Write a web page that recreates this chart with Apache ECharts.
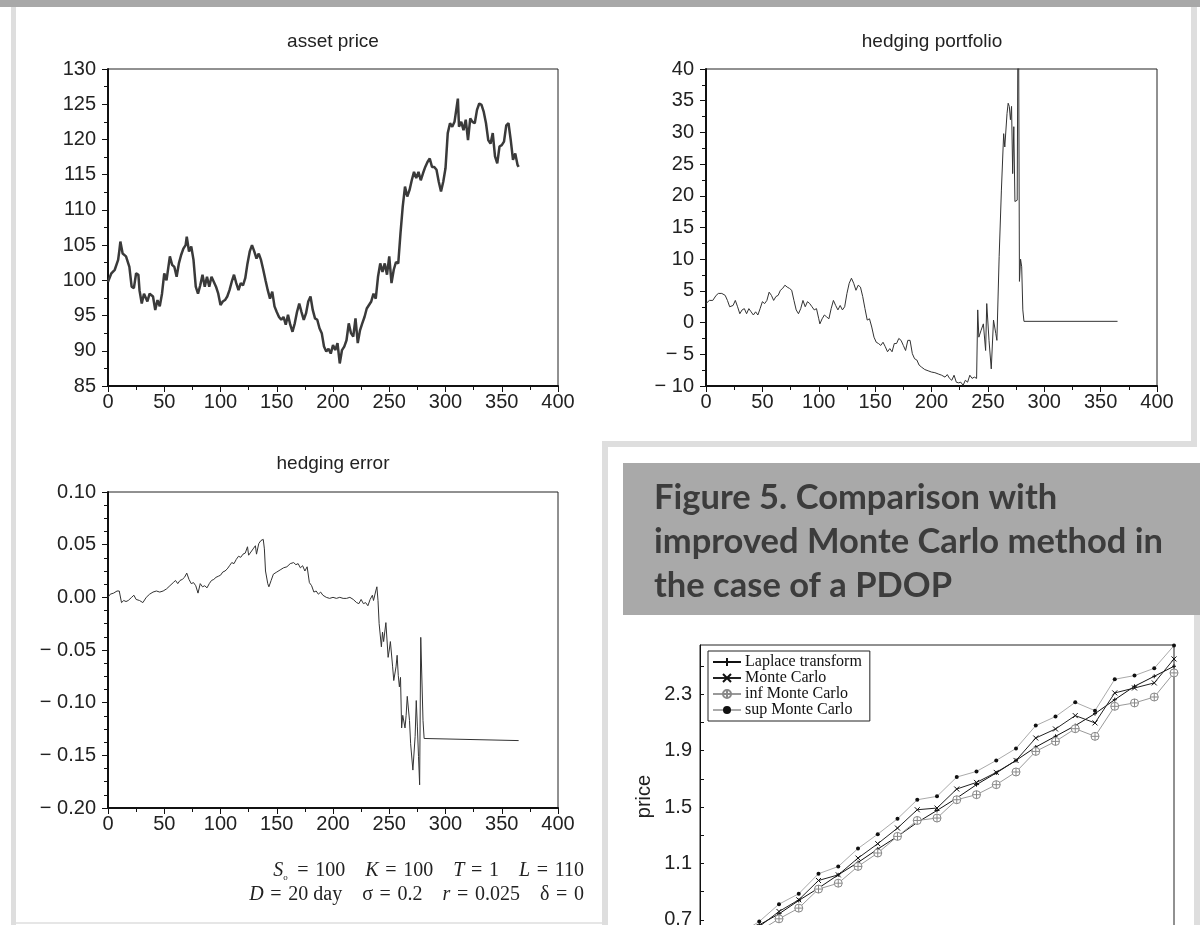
<!DOCTYPE html>
<html>
<head>
<meta charset="utf-8">
<title>hedging</title>
<script src="https://cdn.jsdelivr.net/npm/echarts@6.0.0/dist/echarts.min.js"></script>
<style>
  html, body { margin: 0; padding: 0; background: #fff; }
  #main { width: 1200px; height: 925px; }
</style>
</head>
<body>
<div id="main"></div>
<script>
"use strict";

// asset price path, [day, price]
var assetPrice = [[0,99.8],[3,101.0],[6,101.5],[9,102.9],[10,104.1],[11,105.5],[13,103.8],[16,103.4],[19,101.9],[21,99.1],[23,98.9],[25,101.0],[27,100.8],[28,98.6],[30,96.7],[32,98.1],[35,97.0],[37,98.1],[40,97.7],[42,95.8],[44,97.2],[46,96.3],[48,98.1],[50,101.0],[52,100.0],[55,103.4],[57,102.2],[59,101.9],[61,100.5],[63,102.4],[65,103.6],[67,104.5],[69,105.0],[70,106.2],[72,104.1],[74,104.8],[76,102.9],[78,99.1],[80,98.1],[82,99.3],[84,100.8],[86,99.1],[88,100.5],[90,99.1],[92,100.5],[94,99.8],[96,99.1],[98,98.1],[100,96.5],[102,97.0],[104,97.2],[106,97.7],[108,98.6],[110,99.8],[112,100.8],[114,99.6],[116,98.6],[118,99.6],[120,99.3],[122,100.3],[124,102.4],[126,104.1],[128,105.0],[130,104.1],[132,103.1],[134,103.8],[136,102.9],[138,101.5],[140,100.0],[142,98.6],[144,97.4],[146,98.4],[148,96.3],[150,95.5],[152,94.8],[154,94.4],[156,94.8],[158,93.7],[160,95.1],[162,93.7],[164,92.7],[166,93.9],[168,95.5],[170,96.7],[172,95.5],[174,94.4],[176,95.3],[178,97.0],[180,97.7],[182,95.8],[184,94.6],[186,94.4],[188,93.2],[190,92.5],[192,90.6],[194,89.9],[196,90.3],[198,89.6],[200,90.8],[202,90.1],[204,91.1],[206,88.2],[208,90.1],[210,90.6],[212,91.5],[214,93.9],[216,92.5],[218,92.0],[220,94.6],[222,91.1],[224,92.9],[226,93.9],[228,94.8],[230,96.0],[232,96.5],[234,97.0],[236,98.1],[238,97.4],[240,100.5],[242,102.4],[244,101.2],[246,102.4],[248,100.8],[250,103.4],[252,99.6],[254,101.5],[256,102.6],[258,102.4],[260,106.7],[262,110.5],[264,113.3],[266,111.9],[268,112.8],[270,114.2],[272,115.4],[274,114.5],[276,115.4],[278,114.2],[280,115.2],[282,116.1],[284,116.8],[286,117.3],[288,116.1],[290,116.1],[292,115.7],[294,114.0],[296,112.6],[298,114.0],[300,115.9],[302,120.9],[304,122.3],[306,121.8],[308,122.5],[310,124.7],[311,125.8],[312,121.8],[314,122.5],[316,121.3],[318,122.8],[320,119.9],[322,123.0],[324,122.5],[326,122.3],[328,124.2],[330,125.1],[332,124.9],[334,123.9],[336,122.3],[338,119.9],[340,119.4],[342,120.9],[344,117.6],[346,116.6],[348,119.0],[350,119.2],[352,119.7],[354,122.0],[356,122.3],[358,119.9],[360,117.1],[362,118.0],[364,116.4],[365,116.1]];

// hedging portfolio value, [day, value]
var hedgePortfolio = [[0,3.0],[3,3.5],[6,3.5],[9,4.3],[11,4.6],[14,4.6],[17,4.3],[19,3.5],[21,2.5],[24,2.7],[26,3.5],[28,2.5],[30,1.4],[32,2.0],[34,2.2],[36,1.4],[38,2.2],[40,1.7],[42,1.2],[44,1.7],[46,1.2],[48,2.2],[50,3.3],[52,3.0],[54,3.5],[56,4.8],[58,4.3],[60,3.5],[62,4.1],[64,4.3],[66,5.1],[68,5.4],[70,5.9],[72,5.6],[74,5.4],[76,5.1],[78,3.5],[80,2.0],[82,1.4],[84,2.2],[86,3.5],[88,2.5],[90,3.3],[92,3.0],[94,2.5],[96,2.0],[98,2.2],[100,0.6],[101,-0.2],[103,0.6],[105,1.2],[107,0.9],[109,0.6],[111,2.2],[113,3.5],[115,2.7],[117,2.0],[119,2.7],[121,2.0],[123,2.5],[125,4.6],[127,6.2],[129,7.0],[131,6.2],[133,5.1],[135,5.9],[137,5.6],[139,4.1],[141,2.2],[143,0.4],[145,0.6],[147,-0.7],[149,-2.3],[151,-3.1],[153,-3.3],[155,-3.6],[157,-3.1],[159,-3.8],[161,-4.6],[163,-4.1],[165,-4.6],[167,-3.3],[169,-3.3],[171,-2.5],[173,-2.8],[175,-3.6],[177,-4.4],[179,-2.8],[181,-2.8],[183,-4.9],[185,-5.7],[187,-5.9],[189,-6.7],[191,-7.0],[194,-7.4],[197,-7.6],[200,-7.8],[203,-7.9],[206,-8.1],[209,-8.3],[212,-8.6],[214,-8.2],[216,-8.8],[218,-9.1],[220,-8.3],[222,-9.4],[224,-9.5],[226,-9.4],[228,-9.9],[230,-9.1],[232,-9.4],[234,-8.3],[236,-8.8],[238,-8.6],[240,-8.8],[241,2.0],[242,-2.3],[244,-1.2],[246,-0.2],[248,-4.4],[249,3.0],[251,-2.8],[253,-7.3],[255,0.4],[257,-1.7],[258,-2.8],[260,10.4],[262,20.9],[264,29.8],[265,27.7],[267,33.0],[268,34.6],[269,34.1],[270,32.0],[271,34.1],[272,23.5],[273,30.9],[274,19.1],[276,19.3],[277,60],[278,6.5],[279,10.0],[280,8.8],[281,2.0],[282,0.2],[365,0.2]];

// hedging error, [day, value]
var hedgeError = [[0,0.000],[2,0.003],[5,0.004],[8,0.006],[10,0.006],[12,-0.005],[14,-0.003],[16,-0.004],[18,-0.003],[21,0.000],[23,0.002],[25,-0.002],[28,-0.003],[31,-0.005],[34,0.000],[37,0.003],[40,0.005],[43,0.006],[46,0.005],[49,0.006],[52,0.008],[55,0.011],[58,0.014],[60,0.016],[62,0.013],[64,0.016],[66,0.017],[68,0.019],[70,0.023],[71,0.024],[72,0.017],[74,0.013],[76,0.014],[78,0.011],[80,0.004],[82,0.013],[84,0.010],[86,0.011],[88,0.009],[90,0.013],[92,0.016],[94,0.017],[96,0.019],[98,0.020],[100,0.021],[102,0.024],[104,0.025],[106,0.027],[108,0.030],[110,0.033],[112,0.032],[114,0.036],[116,0.039],[118,0.038],[120,0.041],[122,0.042],[124,0.048],[125,0.040],[127,0.043],[129,0.046],[131,0.049],[132,0.041],[134,0.051],[136,0.054],[138,0.055],[139,0.046],[140,0.025],[142,0.013],[143,0.010],[145,0.016],[147,0.022],[150,0.024],[153,0.026],[156,0.028],[159,0.029],[162,0.032],[165,0.033],[167,0.031],[169,0.032],[171,0.028],[173,0.030],[175,0.025],[177,0.029],[179,0.014],[181,0.011],[183,0.005],[185,0.006],[187,0.003],[189,0.005],[191,0.002],[194,0.000],[197,-0.001],[200,0.000],[203,-0.001],[206,0.000],[209,-0.001],[212,-0.001],[215,0.000],[218,-0.002],[221,-0.005],[223,-0.006],[225,-0.002],[227,-0.006],[229,-0.005],[231,-0.008],[233,-0.002],[235,0.002],[236,-0.003],[238,0.006],[239,0.010],[240,-0.003],[241,-0.025],[243,-0.047],[244,-0.033],[245,-0.042],[247,-0.024],[249,-0.057],[250,-0.050],[251,-0.042],[253,-0.066],[254,-0.079],[256,-0.066],[257,-0.055],[258,-0.074],[259,-0.085],[260,-0.076],[261,-0.124],[262,-0.112],[264,-0.124],[265,-0.112],[266,-0.094],[268,-0.117],[269,-0.139],[271,-0.164],[273,-0.132],[274,-0.098],[275,-0.123],[276,-0.151],[277,-0.178],[278,-0.038],[280,-0.117],[281,-0.134],[282,-0.135],[365,-0.136]];

// Figure 5: comparison with Monte Carlo
var caseIndex = [2, 3, 4, 5, 6, 7, 8, 9, 10, 11, 12, 13, 14, 15, 16, 17, 18, 19, 20, 21, 22, 23, 24];
var laplace = [0.58, 0.664, 0.742, 0.837, 0.925, 1.019, 1.107, 1.202, 1.292, 1.391, 1.476, 1.564, 1.659, 1.742, 1.831, 1.926, 2.002, 2.078, 2.163, 2.262, 2.357, 2.428, 2.499];
var monteCarlo = [0.56, 0.652, 0.759, 0.842, 0.979, 1.019, 1.138, 1.240, 1.351, 1.481, 1.493, 1.628, 1.675, 1.746, 1.831, 1.990, 2.054, 2.149, 2.097, 2.310, 2.345, 2.381, 2.551];
var infMonteCarlo = [0.52, 0.62, 0.707, 0.783, 0.918, 0.960, 1.079, 1.174, 1.292, 1.405, 1.422, 1.552, 1.588, 1.659, 1.749, 1.895, 1.966, 2.056, 2.002, 2.215, 2.239, 2.281, 2.452];
var supMonteCarlo = [0.60, 0.688, 0.811, 0.885, 1.027, 1.078, 1.206, 1.308, 1.417, 1.552, 1.576, 1.713, 1.753, 1.831, 1.916, 2.078, 2.142, 2.243, 2.184, 2.407, 2.433, 2.485, 2.646];
var priceTicks = [0.7, 1.1, 1.5, 1.9, 2.3];
var priceMinorTicks = [0.7, 0.9, 1.1, 1.3, 1.5, 1.7, 1.9, 2.1, 2.3, 2.5];
var seriesNames = ['Laplace transform', 'Monte Carlo', 'inf Monte Carlo', 'sup Monte Carlo'];

var AXIS_FONT = 'Liberation Sans, Arial, sans-serif';
var SERIF = 'Liberation Serif, Times New Roman, serif';

function pairs(xs, ys) {
  return xs.map(function(x, i) { return [x, ys[i]]; });
}

function minusLabel(digits) {
  return function(v) {
    var s = digits ? Math.abs(v).toFixed(digits) : String(Math.abs(v));
    return v < 0 ? '\u2212 ' + s : s;
  };
}

// x axis of the three time plots (days)
function dayAxis(grid) {
  return {
    type: 'value', gridIndex: grid,
    min: 0, max: 400, interval: 50,
    axisLine: { onZero: false, lineStyle: { color: '#111', width: 2 } },
    axisTick: { length: 6, lineStyle: { color: '#111' } },
    minorTick: { show: true, splitNumber: 2, length: 4, lineStyle: { color: '#111' } },
    splitLine: { show: false },
    axisLabel: { color: '#222', fontSize: 20, fontFamily: AXIS_FONT, margin: 6 }
  };
}

function levelAxis(grid, min, max, step, minor, fmt) {
  return {
    type: 'value', gridIndex: grid,
    min: min, max: max, interval: step,
    axisLine: { onZero: false, lineStyle: { color: '#111', width: 2 } },
    axisTick: { length: 6, lineStyle: { color: '#111' } },
    minorTick: { show: true, splitNumber: minor, length: 4, lineStyle: { color: '#111' } },
    splitLine: { show: false },
    axisLabel: { color: '#222', fontSize: 20, fontFamily: AXIS_FONT, margin: 12, formatter: fmt }
  };
}

function plotTitle(text, x, y) {
  return {
    text: text, left: x, top: y, textAlign: 'center', padding: 0,
    textStyle: { color: '#222', fontSize: 19, fontWeight: 'normal', fontFamily: AXIS_FONT }
  };
}

function plotGrid(left, top, width, height) {
  return {
    left: left, top: top, width: width, height: height,
    outerBoundsMode: 'none', containLabel: false,
    show: true, borderColor: '#222', borderWidth: 1, backgroundColor: 'transparent'
  };
}

var chart = echarts.init(document.getElementById('main'), null, { renderer: 'canvas' });

var option = {
  animation: false,
  backgroundColor: '#fff',
  title: [
    plotTitle('asset price', 333, 32),
    plotTitle('hedging portfolio', 932, 32),
    plotTitle('hedging error', 333, 454)
  ],
  grid: [
    plotGrid(108, 69, 450, 317),
    plotGrid(706, 69, 451, 317),
    plotGrid(108, 492, 450, 316),
    plotGrid(700, 645, 474, 303)
  ],
  xAxis: [
    dayAxis(0),
    dayAxis(1),
    dayAxis(2),
    { type: 'value', gridIndex: 3, min: 0, max: 24, show: false, splitLine: { show: false } }
  ],
  yAxis: [
    levelAxis(0, 85, 130, 5, 2, minusLabel(0)),
    levelAxis(1, -10, 40, 5, 2, minusLabel(0)),
    levelAxis(2, -0.2, 0.1, 0.05, 4, minusLabel(2)),
    {
      type: 'value', gridIndex: 3, min: 0.5, max: 2.65,
      name: 'price', nameLocation: 'middle', nameGap: 46, nameRotate: 90,
      nameTextStyle: { color: '#222', fontSize: 20, fontFamily: AXIS_FONT },
      axisLine: { onZero: false, lineStyle: { color: '#111', width: 1 } },
      axisTick: { inside: true, length: 4, customValues: priceMinorTicks, lineStyle: { color: '#111' } },
      splitLine: { show: false },
      axisLabel: { color: '#222', fontSize: 20, fontFamily: AXIS_FONT, margin: 8,
        customValues: priceTicks, formatter: function(v) { return v.toFixed(1); } }
    }
  ],
  legend: {
    data: seriesNames,
    orient: 'vertical', left: 708, top: 651,
    itemWidth: 28, itemHeight: 10, itemGap: 0,
    padding: [3, 8, 3, 4],
    borderColor: '#222', borderWidth: 1, borderRadius: 0,
    backgroundColor: '#fff',
    textStyle: { fontFamily: SERIF, fontSize: 16, color: '#111', lineHeight: 15, padding: [0, 0, 0, -1] }
  },
  graphic: [
    { type: 'rect', shape: { x: 0, y: 0, width: 1200, height: 7 }, style: { fill: '#a8a8a8' }, silent: true },
    { type: 'rect', shape: { x: 11, y: 7, width: 5, height: 918 }, style: { fill: '#dedede' }, silent: true },
    { type: 'rect', shape: { x: 1191, y: 7, width: 6, height: 440 }, style: { fill: '#dedede' }, silent: true },
    { type: 'rect', shape: { x: 602, y: 441, width: 595, height: 6 }, style: { fill: '#dedede' }, silent: true },
    { type: 'rect', shape: { x: 602, y: 441, width: 6, height: 484 }, style: { fill: '#dedede' }, silent: true },
    { type: 'rect', shape: { x: 1194, y: 615, width: 6, height: 310 }, style: { fill: '#dedede' }, silent: true },
    { type: 'rect', shape: { x: 16, y: 922, width: 586, height: 2 }, style: { fill: '#e6e6e6' }, silent: true },
    { type: 'rect', shape: { x: 623, y: 463, width: 577, height: 152 }, style: { fill: '#a9a9a9' }, silent: true },
    {
      type: 'text', x: 654, y: 476, silent: true,
      style: {
        text: 'Figure 5. Comparison with\nimproved Monte Carlo method in\nthe case of a PDOP',
        font: 'bold 34.5px Lato, sans-serif', lineHeight: 44, fill: '#3c3c3c'
      }
    },
    {
      type: 'text', x: 584, y: 871, silent: true,
      style: {
        text: '{i|S}{s|o}\u2004=\u2004100\u2003{i|K}\u2004=\u2004100\u2003{i|T}\u2004=\u20041\u2003{i|L}\u2004=\u2004110',
        align: 'right', verticalAlign: 'middle',
        fontFamily: SERIF, fontSize: 20, fill: '#222',
        rich: {
          i: { fontFamily: SERIF, fontSize: 20, fontStyle: 'italic' },
          s: { fontFamily: SERIF, fontSize: 9, padding: [14, 3, 0, 0] }
        }
      }
    },
    {
      type: 'text', x: 584, y: 895, silent: true,
      style: {
        text: '{i|D}\u2004=\u200420 day\u2003\u03c3\u2004=\u20040.2\u2003{i|r}\u2004=\u20040.025\u2003\u03b4\u2004=\u20040',
        align: 'right', verticalAlign: 'middle',
        fontFamily: SERIF, fontSize: 20, fill: '#222',
        rich: { i: { fontFamily: SERIF, fontSize: 20, fontStyle: 'italic' } }
      }
    }
  ],
  series: [
    {
      name: 'asset price', type: 'line', xAxisIndex: 0, yAxisIndex: 0,
      data: assetPrice, showSymbol: false,
      lineStyle: { color: '#3a3a3a', width: 2.5 }
    },
    {
      name: 'hedging portfolio', type: 'line', xAxisIndex: 1, yAxisIndex: 1,
      data: hedgePortfolio, showSymbol: false,
      lineStyle: { color: '#333', width: 1 }
    },
    {
      name: 'hedging error', type: 'line', xAxisIndex: 2, yAxisIndex: 2,
      data: hedgeError, showSymbol: false,
      lineStyle: { color: '#333', width: 1 }
    },
    {
      name: seriesNames[0], type: 'line', xAxisIndex: 3, yAxisIndex: 3,
      data: pairs(caseIndex, laplace),
      symbol: 'path://M5,0L5,10M0,5L10,5', symbolSize: 4,
      itemStyle: { color: '#111', borderColor: '#111', borderWidth: 1 },
      lineStyle: { color: '#111', width: 1 }
    },
    {
      name: seriesNames[1], type: 'line', xAxisIndex: 3, yAxisIndex: 3,
      data: pairs(caseIndex, monteCarlo),
      symbol: 'path://M0,0L10,10M10,0L0,10', symbolSize: 5,
      itemStyle: { color: '#111', borderColor: '#111', borderWidth: 1 },
      lineStyle: { color: '#222', width: 1 }
    },
    {
      name: seriesNames[2], type: 'line', xAxisIndex: 3, yAxisIndex: 3,
      data: pairs(caseIndex, infMonteCarlo),
      symbol: 'path://M0,5A5,5 0 1,0 10,5A5,5 0 1,0 0,5ZM5,0L5,10M0,5L10,5', symbolSize: 8,
      itemStyle: { color: '#fff', borderColor: '#888', borderWidth: 1 },
      lineStyle: { color: '#999', width: 1 }
    },
    {
      name: seriesNames[3], type: 'line', xAxisIndex: 3, yAxisIndex: 3,
      data: pairs(caseIndex, supMonteCarlo),
      symbol: 'circle', symbolSize: 4,
      itemStyle: { color: '#111' },
      lineStyle: { color: '#aaa', width: 1 }
    }
  ]
};

chart.setOption(option);
</script>
</body>
</html>
